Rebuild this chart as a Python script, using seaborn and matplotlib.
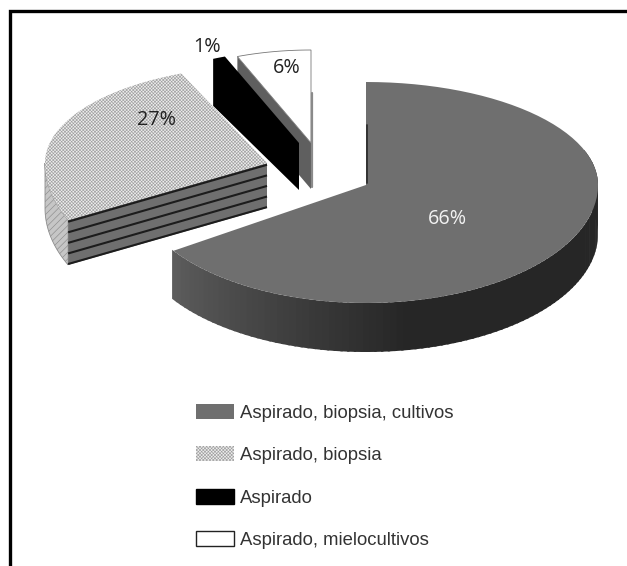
#!/usr/bin/env python3
# -*- coding: utf-8 -*-
"""Exploded pseudo-3D pie of diagnostic procedures"""
import numpy as np
import matplotlib
matplotlib.use("Agg")
import matplotlib.pyplot as plt
import seaborn as sns
from matplotlib.patches import Patch, Polygon

# data
labels = ["Aspirado, biopsia, cultivos", "Aspirado, biopsia", "Aspirado", "Aspirado, mielocultivos"]
values = [66, 27, 1, 6]

sns.set_theme(style="white")
plt.rcParams["font.family"] = ["Open Sans", "DejaVu Sans"]
plt.rcParams["hatch.linewidth"] = 0.45

GREY_TOP = "#6f6f6f"
GREY_DOTS = "#a0a0a0"

# clockwise angles from 12 o'clock
edges = np.concatenate([[0], np.cumsum(values)]) * 360.0 / sum(values)


def arc(cx, cy, rx, ry, t0, t1, dy=0.0, n=80, ry_front=None):
    t = np.radians(np.linspace(t0, t1, n))
    c = np.cos(t)
    # the near half of the ellipse is a bit deeper, as in a perspective view
    r = np.where(c < 0, ry if ry_front is None else ry_front, ry)
    return np.column_stack([cx + rx * np.sin(t), cy - r * c + dy])


def top_face(cx, cy, rx, ry, t0, t1, ry_front=None):
    return np.vstack([[cx, cy], arc(cx, cy, rx, ry, t0, t1, ry_front=ry_front)])


fig = plt.figure(figsize=(6.27, 5.66), dpi=100)
ax = fig.add_axes([0, 0, 1, 1])
ax.set_xlim(0, 627)
ax.set_ylim(566, 0)
ax.axis("off")

# only the top and left rules of the box are in the scan
ax.plot([9.5, 9.5, 627], [566, 10.5, 10.5], color="black", lw=2.4, solid_joinstyle="miter")

# big slice
cx, cy, rx, ry, ry_front, depth = 366, 185, 232, 103, 118, 49
t0, t1 = edges[0], edges[1] - 1.5
ts = np.linspace(70, t1, 100)
for a, b in zip(ts[:-1], ts[1:]):
    top = arc(cx, cy, rx, ry, a, b + 0.6, n=4, ry_front=ry_front)
    bottom = arc(cx, cy, rx, ry, a, b + 0.6, dy=depth, n=4, ry_front=ry_front)[::-1]
    # dark wall that lightens towards the cut end
    shade = 0.15 + 0.21 * np.clip(((a + b) / 2 - 170) / 65, 0, 1)
    ax.add_patch(Polygon(np.vstack([top, bottom]), fc=str(shade), ec="none"))
ax.add_patch(Polygon(top_face(cx, cy, rx, ry, t0, t1, ry_front), fc=GREY_TOP, ec="none"))
ax.plot([cx + 1, cx + 1], [125, cy - 2], color="#2e2e2e", lw=1.3)
ax.text(447, 219, f"{values[0]}%", color="#f2f2f2", fontsize=14.2, ha="center", va="center")

# dotted slice
cx, cy, rx, ry, ry_front, depth = 267, 163, 222, 97, 128, 45
t0, t1 = edges[1] + 6, edges[2] + 2.5
rim = np.vstack([arc(cx, cy, rx, ry, t0, 270, ry_front=ry_front),
                 arc(cx, cy, rx, ry, t0, 270, dy=depth, ry_front=ry_front)[::-1]])
ax.add_patch(Polygon(rim, fc="#c6c6c6", ec="#8c8c8c", hatch="/////", lw=0.6))
corner = arc(cx, cy, rx, ry, t0, t0, n=1, ry_front=ry_front)[0]
wall = np.array([[cx, cy], corner, corner + [0, depth], [cx, cy + depth]])
ax.add_patch(Polygon(wall, fc=GREY_TOP, ec="none"))
for frac in np.linspace(0.04, 0.98, 5):
    p0, p1 = corner + [0, depth * frac], np.array([cx, cy + depth * frac])
    ax.plot([p0[0], p1[0]], [p0[1], p1[1]], color="#1c1c1c", lw=1.5, solid_capstyle="butt")
face = top_face(cx, cy, rx, ry, t0, t1, ry_front)
ax.add_patch(Polygon(face, fc="#eeeeee", ec="none"))
ax.add_patch(Polygon(face, fc="none", ec=GREY_DOTS, hatch="xxxxxxxxxx", lw=0))
ax.text(157, 120, f"{values[1]}%", color="#222222", fontsize=14.2, ha="center", va="center")

# white slice, wall drawn first so the black one covers it
cx, cy, rx, ry, depth = 311, 143, 200, 93, 46
t0, t1 = edges[3], edges[4]
corner = arc(cx, cy, rx, ry, t0, t0, n=1)[0]
ax.add_patch(Polygon([[cx, cy], corner, corner + [0, depth], [cx, cy + depth]], fc="#5f5f5f", ec="none"))
ax.add_patch(Polygon(top_face(cx, cy, rx, ry, t0, t1), fc="white", ec="#777777", lw=0.6))
ax.plot([cx + 1, cx + 1], [cy - 50, cy + depth - 2], color="#8a8a8a", lw=1.6)
ax.text(287, 68, f"{values[3]}%", color="#222222", fontsize=14.2, ha="center", va="center")

# black slice, only its wall and a sliver of top are visible
cx, cy, rx, ry, depth = 300, 143, 204, 93, 47
t0, t1 = edges[2], edges[3]
outer = arc(cx, cy, rx, ry, t0, t1, n=6)
ax.add_patch(Polygon(np.vstack([[cx - 1, cy], outer[::-1], outer[0] + [0, depth], [cx - 1, cy + depth]]), fc="black", ec="none"))
ax.text(207, 47, f"{values[2]}%", color="#222222", fontsize=14.2, ha="center", va="center")

# legend
handles = [
    Patch(fc=GREY_TOP, ec="none"),
    Patch(fc="#eeeeee", ec=GREY_DOTS, hatch="xxxxxxxxxx", lw=0),
    Patch(fc="black", ec="black"),
    Patch(fc="white", ec="#222222", lw=1),
]
ax.legend(handles, labels, loc="upper left", bbox_to_anchor=(196 / 627, 1 - 404 / 566), frameon=False,
          handlelength=2.06, handleheight=0.87, handletextpad=0.33, labelspacing=1.33, borderpad=0,
          borderaxespad=0, prop={"family": "Liberation Sans", "size": 13.3}, labelcolor="#333333")

fig.savefig("out.png", dpi=100)
plt.close(fig)
